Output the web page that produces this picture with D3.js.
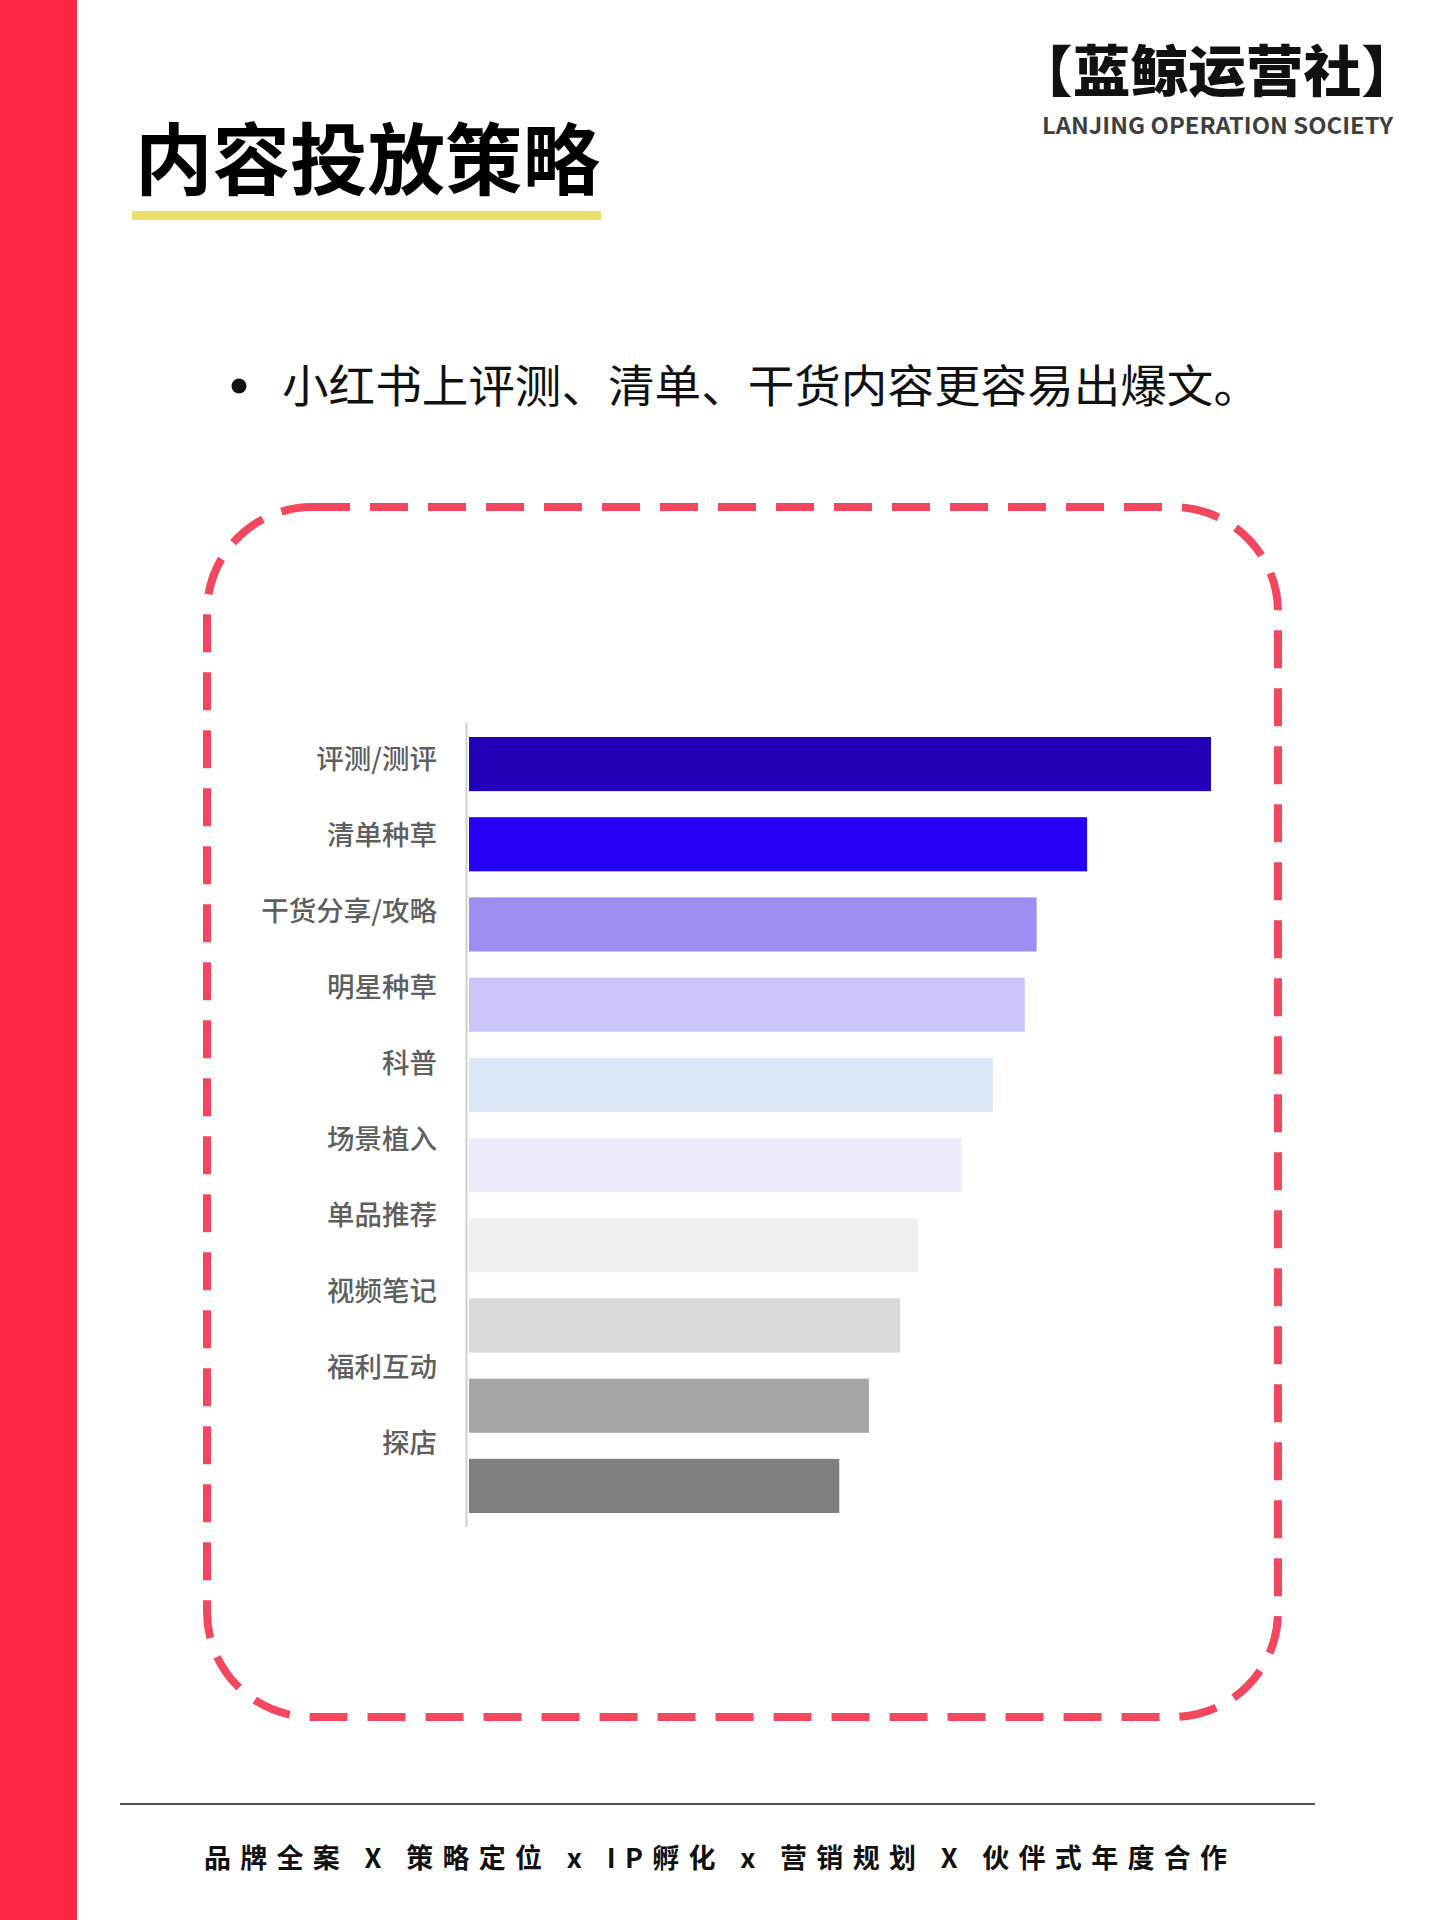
<!DOCTYPE html>
<html>
<head>
<meta charset="utf-8">
<script src="https://cdn.jsdelivr.net/npm/d3@7/dist/d3.min.js"></script>
<style>
  html, body { margin: 0; padding: 0; background: #fff; }
  svg { display: block; }
</style>
</head>
<body>
<script>
const categories = ["评测/测评", "清单种草", "干货分享/攻略", "明星种草", "科普", "场景植入", "单品推荐", "视频笔记", "福利互动", "探店"];
const values = [100, 83.3, 76.5, 74.9, 70.6, 66.4, 60.5, 58.1, 53.9, 49.9];
const barColors = ["#2300b8", "#2400f4", "#9d8ef1", "#c9c4fa", "#dbe6f6", "#eeecfb", "#efefef", "#d9d9d9", "#a6a6a6", "#7f7f7f"];

const titleText = "内容投放策略";
const logoText = "【蓝鲸运营社】";
const logoSub = "LANJING OPERATION SOCIETY";
const bulletText = "小红书上评测、清单、干货内容更容易出爆文。";
const footerText = "品牌全案 X 策略定位 x IP孵化 x 营销规划 X 伙伴式年度合作";

const W = 1436, H = 1920;
const FONT = "'Noto Sans CJK SC', 'Noto Sans', sans-serif";

const svg = d3.select("body").append("svg")
  .attr("width", W).attr("height", H)
  .style("font-family", FONT);

svg.append("rect").attr("x", 0).attr("y", 0).attr("width", W).attr("height", H).attr("fill", "#fff");

// left red strip
svg.append("rect").attr("x", 0).attr("y", 0).attr("width", 77).attr("height", H).attr("fill", "#ff2844");

// title
svg.append("text").attr("x", 135).attr("y", 189)
  .attr("font-size", 78).attr("font-weight", 700).attr("fill", "#000")
  .attr("textLength", 465).attr("lengthAdjust", "spacingAndGlyphs")
  .text(titleText);
svg.append("rect").attr("x", 132).attr("y", 211).attr("width", 469).attr("height", 9).attr("fill", "#ebdd6e");

// logo
svg.append("text").attr("x", 1015).attr("y", 91)
  .attr("font-size", 55).attr("font-weight", 900).attr("fill", "#111")
  .attr("textLength", 404).attr("lengthAdjust", "spacingAndGlyphs")
  .text(logoText);
svg.append("text").attr("x", 1042).attr("y", 134)
  .attr("font-size", 23).attr("font-weight", 600).attr("fill", "#3f3f3f")
  .attr("textLength", 351).attr("lengthAdjust", "spacingAndGlyphs")
  .text(logoSub);

// bullet
svg.append("circle").attr("cx", 239).attr("cy", 386).attr("r", 7.5).attr("fill", "#111");
svg.append("text").attr("x", 282).attr("y", 403)
  .attr("font-size", 45).attr("font-weight", 400).attr("fill", "#111")
  .attr("textLength", 978).attr("lengthAdjust", "spacingAndGlyphs")
  .text(bulletText);

// dashed rounded frame
svg.append("rect").attr("x", 207).attr("y", 507).attr("width", 1071).attr("height", 1210)
  .attr("rx", 105).attr("ry", 105)
  .attr("fill", "none").attr("stroke", "#f2475f").attr("stroke-width", 8)
  .attr("stroke-dasharray", "38 20");

// chart
const x = d3.scaleLinear().domain([0, 100]).range([469, 1211]);
const y = d3.scaleBand().domain(categories).range([737, 1513]).paddingInner(0.325).paddingOuter(0);
const labelY = d3.scalePoint().domain(categories).range([759, 1443]);

const data = categories.map((c, i) => ({ cat: c, v: values[i], color: barColors[i] }));

svg.append("g").selectAll("rect").data(data).join("rect")
  .attr("x", x(0))
  .attr("y", d => y(d.cat))
  .attr("width", d => x(d.v) - x(0))
  .attr("height", y.bandwidth())
  .attr("fill", d => d.color);

// axis line
svg.append("line").attr("x1", x(0) - 2.5).attr("x2", x(0) - 2.5)
  .attr("y1", 723).attr("y2", 1527)
  .attr("stroke", "#cfcfcf").attr("stroke-width", 2);

// category labels via axis
const yAxis = d3.axisLeft(labelY).tickSize(0).tickPadding(0);
const gAxis = svg.append("g").attr("transform", "translate(437,0)").call(yAxis);
gAxis.select(".domain").remove();
gAxis.selectAll("text")
  .attr("font-family", FONT).attr("font-size", 27.5).attr("fill", "#5f5f5f")
  .attr("font-weight", 500).attr("dy", "0.35em");

// bottom divider
svg.append("line").attr("x1", 120).attr("x2", 1315).attr("y1", 1804).attr("y2", 1804)
  .attr("stroke", "#555").attr("stroke-width", 2);

// footer
svg.append("text").attr("x", 204).attr("y", 1868)
  .attr("font-size", 27).attr("font-weight", 700).attr("fill", "#111")
  .attr("textLength", 1023).attr("lengthAdjust", "spacing")
  .text(footerText);
</script>
</body>
</html>
